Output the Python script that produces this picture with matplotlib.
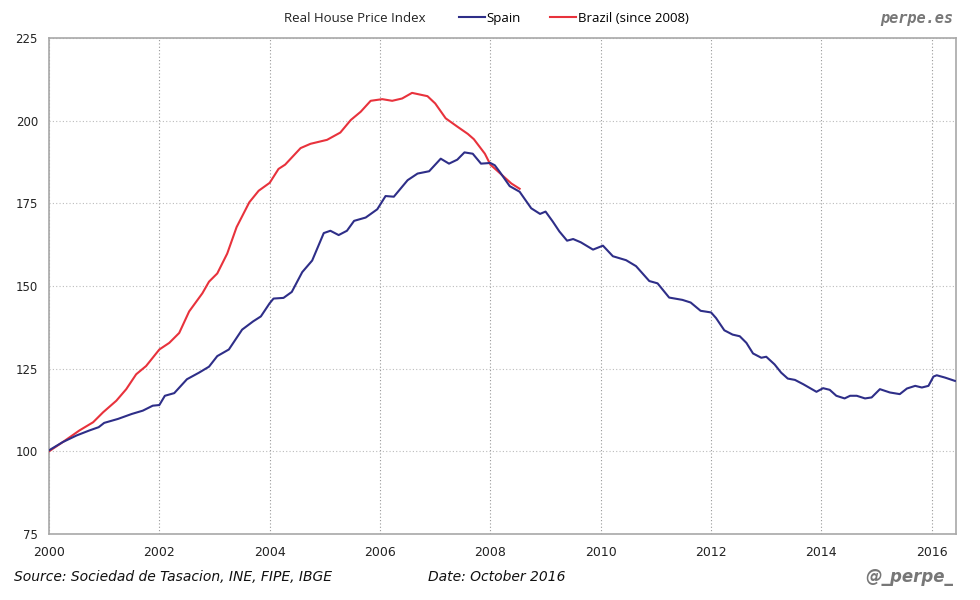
import matplotlib
matplotlib.use("Agg")
import matplotlib.pyplot as plt
from matplotlib.lines import Line2D

# ---------------- data ----------------
spain_years = [2000.0, 2000.25, 2000.5, 2000.73, 2000.9, 2001.0, 2001.25, 2001.5, 2001.7, 2001.88,
               2002.0, 2002.1, 2002.27, 2002.5, 2002.72, 2002.9, 2003.05, 2003.26, 2003.5, 2003.7,
               2003.84, 2004.0, 2004.07, 2004.25, 2004.4, 2004.59, 2004.77, 2004.98, 2005.1, 2005.25,
               2005.4, 2005.53, 2005.74, 2005.95, 2006.1, 2006.25, 2006.5, 2006.68, 2006.89, 2007.1,
               2007.25, 2007.4, 2007.53, 2007.68, 2007.83, 2008.0, 2008.08, 2008.17, 2008.35, 2008.53,
               2008.74, 2008.9, 2009.0, 2009.13, 2009.25, 2009.39, 2009.5, 2009.64, 2009.86, 2010.04,
               2010.22, 2010.46, 2010.64, 2010.88, 2011.03, 2011.24, 2011.48, 2011.63, 2011.81, 2012.0,
               2012.09, 2012.24, 2012.39, 2012.52, 2012.64, 2012.76, 2012.91, 2013.0, 2013.15, 2013.27,
               2013.39, 2013.52, 2013.67, 2013.91, 2014.03, 2014.15, 2014.27, 2014.42, 2014.52, 2014.64,
               2014.79, 2014.91, 2015.06, 2015.24, 2015.42, 2015.55, 2015.7, 2015.82, 2015.94, 2016.03,
               2016.09, 2016.24, 2016.42]
spain_values = [100.3, 102.8, 104.8, 106.3, 107.3, 108.6, 109.8, 111.3, 112.3, 113.8,
                114.0, 116.8, 117.6, 121.8, 123.8, 125.6, 128.8, 130.8, 136.8, 139.3,
                140.8, 144.8, 146.2, 146.4, 148.2, 154.2, 157.7, 166.0, 166.7, 165.4,
                166.7, 169.7, 170.7, 173.2, 177.2, 177.0, 182.0, 184.0, 184.7, 188.5,
                187.0, 188.2, 190.4, 190.0, 187.0, 187.2, 186.5, 184.5, 180.2, 178.5,
                173.5, 171.8, 172.5, 169.5, 166.5, 163.7, 164.2, 163.2, 161.0, 162.2,
                159.0, 157.8, 156.0, 151.5, 150.8, 146.5, 145.8, 145.0, 142.5, 142.0,
                140.3, 136.6, 135.3, 134.8, 132.8, 129.6, 128.3, 128.6, 126.3, 123.8,
                122.0, 121.6, 120.3, 118.0, 119.1, 118.6, 116.8, 116.0, 116.8, 116.8,
                116.0, 116.3, 118.8, 117.8, 117.3, 119.0, 119.8, 119.3, 119.8, 122.6,
                123.0, 122.3, 121.3]

brazil_years = [2000.0, 2000.25, 2000.55, 2000.8, 2000.98, 2001.22, 2001.4, 2001.58, 2001.76, 2002.0,
                2002.18, 2002.36, 2002.54, 2002.78, 2002.9, 2003.05, 2003.23, 2003.4, 2003.63, 2003.8,
                2004.0, 2004.16, 2004.28, 2004.56, 2004.74, 2005.04, 2005.28, 2005.47, 2005.65, 2005.83,
                2006.04, 2006.22, 2006.4, 2006.58, 2006.86, 2007.0, 2007.19, 2007.4, 2007.59, 2007.7,
                2007.9, 2008.0, 2008.2, 2008.38, 2008.53]
brazil_values = [100.0, 102.8, 106.3, 108.8, 111.8, 115.3, 118.8, 123.3, 125.8, 130.8,
                 132.8, 135.8, 142.3, 147.8, 151.3, 153.8, 159.8, 167.8, 175.3, 178.8,
                 181.2, 185.4, 186.7, 191.7, 193.0, 194.2, 196.4, 200.2, 202.7, 206.0,
                 206.5, 206.0, 206.7, 208.4, 207.4, 205.2, 200.7, 198.2, 196.0, 194.4,
                 190.0, 186.7, 183.7, 181.0, 179.4]

x_ticks = [2000, 2002, 2004, 2006, 2008, 2010, 2012, 2014, 2016]
y_ticks = [75, 100, 125, 150, 175, 200, 225]

title = "Real House Price Index"
spain_label = "Spain"
brazil_label = "Brazil (since 2008)"
source_text = "Source: Sociedad de Tasacion, INE, FIPE, IBGE"
date_text = "Date: October 2016"

# ---------------- figure ----------------
fig = plt.figure(figsize=(9.8, 6.0), dpi=100)
ax = fig.add_axes([0.05, 0.11, 0.925, 0.8267])

spain_color = "#2e2e88"
brazil_color = "#e8323c"

ax.plot(brazil_years, brazil_values, color=brazil_color, lw=1.5, zorder=3)
ax.plot(spain_years, spain_values, color=spain_color, lw=1.5, zorder=4)

ax.set_xlim(2000, 2016.43)
ax.set_ylim(75, 225)
ax.set_xticks(x_ticks)
ax.set_yticks(y_ticks)
ax.set_xticklabels([str(t) for t in x_ticks], family=['Liberation Sans Narrow', 'DejaVu Sans'],
                   fontsize=9, color="#222222")
ax.set_yticklabels([str(t) for t in y_ticks], family='DejaVu Sans', fontsize=8.5, color="#222222")
ax.tick_params(length=0, pad=8)
ax.tick_params(axis='x', pad=9)

ax.yaxis.grid(True, linestyle=(0, (1, 2)), color="#bcbcbc", lw=0.8)
ax.xaxis.grid(True, linestyle=(0, (1, 2)), color="#999999", lw=0.8)
ax.set_axisbelow(True)
for s in ax.spines.values():
    s.set_color("#a8a8a8")
    s.set_linewidth(1.2)

# ---------------- header ----------------
fig.text(0.362, 0.969, title, ha='center', va='center', fontsize=9.5,
         family=['Open Sans', 'DejaVu Sans'], color="#222222")
handles = [Line2D([], [], color=spain_color, lw=1.5),
           Line2D([], [], color=brazil_color, lw=1.5)]
fig.legend(handles, [spain_label, brazil_label], loc='center left',
           bbox_to_anchor=(0.456, 0.969), ncol=2, frameon=False,
           handlelength=2.0, handletextpad=0.1, columnspacing=2.2,
           prop={'family': ['Open Sans', 'DejaVu Sans'], 'size': 9.5})

fig.text(0.973, 0.969, "perpe.es", ha='right', va='center', fontsize=11,
         family='DejaVu Sans Mono', weight='bold', style='italic', color="#777777")

# ---------------- footer ----------------
fig.text(0.014, 0.038, source_text, ha='left', va='center', fontsize=10,
         family=['Liberation Sans Narrow', 'DejaVu Sans'], style='italic', color="#111111")
fig.text(0.437, 0.038, date_text, ha='left', va='center', fontsize=10,
         family=['Liberation Sans Narrow', 'DejaVu Sans'], style='italic', color="#111111")
fig.text(0.973, 0.038, "@_perpe_", ha='right', va='center', fontsize=12,
         family='DejaVu Sans', weight='bold', style='italic', color="#777777")

fig.savefig("out.png", dpi=100, facecolor="white")
